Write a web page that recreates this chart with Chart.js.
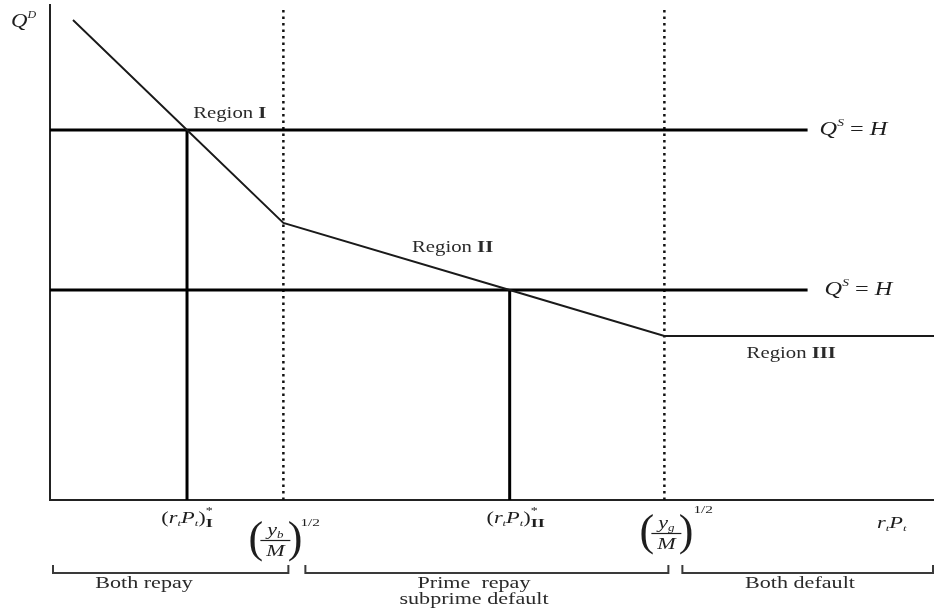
<!DOCTYPE html>
<html><head><meta charset="utf-8">
<script src="https://cdn.jsdelivr.net/npm/chart.js@4"></script>
<style>html,body{margin:0;padding:0;background:#fff}canvas{display:block}</style>
</head><body>
<canvas id="c" width="934" height="612"></canvas>
<script>
// ---- data (x: 0..100 along r_t P_t, y: 0..99 along Q) ----
const demandX = [2.6, 15.5, 26.4, 52.0, 69.5, 100];
const demandY = [96, 74, 55.4, 42.0, 32.8, 32.8];
const supplyLevels = [74, 42];          // Q^S = H (two cases)
const supplyEndX = 85.7;
const equilibriumX = [15.5, 52.0];      // (r_t P_t)*_I , (r_t P_t)*_II
const thresholdX = [26.4, 69.5];        // (y_b/M)^1/2 , (y_g/M)^1/2
const regionNames = ['I', 'II', 'III'];
const regionLabelX = [16.2, 40.95, 78.8];
const regionLabelY = [76.4, 49.6, 28.4];
const bracketLabels = [['Both repay'], ['Prime  repay', 'subprime default'], ['Both default']];

const SERIF = '"Liberation Serif", "Times New Roman", serif';
const INK = '#1e1e1e';
function F(size, style) { return (style || '') + ' ' + size + 'px ' + SERIF; }

function rich(ctx, parts, x, y, align, sx) {
  let w = 0; const adv = [];
  for (const p of parts) {
    ctx.font = p.f;
    const m = ctx.measureText(p.t).width;
    const a = p.hold ? 0 : m + (p.dx || 0);
    adv.push(a); w += a;
  }
  const x0 = align === 'center' ? x - w * sx / 2 : align === 'right' ? x - w * sx : x;
  ctx.save(); ctx.translate(x0, y); ctx.scale(sx, 1);
  ctx.textAlign = 'left'; ctx.textBaseline = 'alphabetic';
  let cx = 0;
  parts.forEach((p, i) => { ctx.font = p.f; ctx.fillStyle = p.c || INK; ctx.fillText(p.t, cx, p.dy || 0); cx += adv[i]; });
  ctx.restore();
}

function frac(ctx, cx, barY, sub, supX, supY) {
  ctx.save();
  ctx.fillStyle = INK; ctx.strokeStyle = INK;
  ctx.font = F(44); ctx.textBaseline = 'alphabetic';
  ctx.textAlign = 'left'; ctx.fillText('(', cx - 27, barY + 12);
  ctx.textAlign = 'right'; ctx.fillText(')', cx + 27, barY + 12);
  ctx.lineWidth = 1.2;
  ctx.beginPath(); ctx.moveTo(cx - 15, barY + 0.5); ctx.lineTo(cx + 15, barY + 0.5); ctx.stroke();
  ctx.restore();
  rich(ctx, [{ t: 'y', f: F(17, 'italic') }, { t: sub, f: F(10, 'italic'), dy: 3 }], cx, barY - 5, 'center', 1.3);
  rich(ctx, [{ t: 'M', f: F(17, 'italic') }], cx, barY + 16, 'center', 1.3);
  rich(ctx, [{ t: '1/2', f: F(11) }], supX, supY, 'left', 1.4);
}

function rp(ctx, mark, x, y) {
  const parts = [
    { t: '(', f: F(16) }, { t: 'r', f: F(16, 'italic') }, { t: 't', f: F(9, 'italic'), dy: 3 },
    { t: 'P', f: F(16, 'italic') }, { t: 't', f: F(9, 'italic'), dy: 3 }, { t: ')', f: F(16) },
    { t: '*', f: F(10), dy: -9, hold: true }, { t: mark, f: F(13, 'bold'), dy: 4 }
  ];
  rich(ctx, parts, x, y, 'center', 1.4);
}

const annot = {
  id: 'annot',
  afterDraw(chart) {
    const ctx = chart.ctx, xs = chart.scales.x, ys = chart.scales.y;
    const px = v => xs.getPixelForValue(v), py = v => ys.getPixelForValue(v);
    // axis label
    rich(ctx, [{ t: 'Q', f: F(19, 'italic') }, { t: 'D', f: F(10, 'italic'), dy: -9 }], 11, 27, 'left', 1.2);
    // supply labels
    supplyLevels.forEach((l, i) => {
      rich(ctx, [{ t: 'Q', f: F(18, 'italic') }, { t: 'S', f: F(10, 'italic'), dy: -9 },
        { t: ' = ', f: F(18) }, { t: 'H', f: F(18, 'italic') }],
        px(supplyEndX) + 12 + i * 5, py(l) + 5, 'left', 1.35);
    });
    // region labels
    regionNames.forEach((n, i) => {
      rich(ctx, [{ t: 'Region ', f: F(17), c: '#2a2a2a' }, { t: n, f: F(17, 'bold'), c: '#2a2a2a' }],
        px(regionLabelX[i]), py(regionLabelY[i]), 'left', 1.22);
    });
    // x-axis labels
    const base = ys.bottom;
    rp(ctx, 'I', px(equilibriumX[0]), base + 23);
    rp(ctx, 'II', px(equilibriumX[1]) + 6, base + 23);
    frac(ctx, px(thresholdX[0]) - 8, base + 40, 'b', px(thresholdX[0]) + 17, base + 26);
    frac(ctx, px(thresholdX[1]) + 2, base + 33, 'g', px(thresholdX[1]) + 29, base + 13);
    rich(ctx, [{ t: 'r', f: F(16, 'italic') }, { t: 't', f: F(9, 'italic'), dy: 3 },
      { t: 'P', f: F(16, 'italic') }, { t: 't', f: F(9, 'italic'), dy: 3 }], 877, base + 28, 'left', 1.4);
    // brackets
    const by = base + 73;
    const spans = [[xs.left + 3, px(thresholdX[0]) + 5], [px(thresholdX[0]) + 22, px(thresholdX[1]) + 4], [px(thresholdX[1]) + 18, xs.right - 1]];
    ctx.save();
    ctx.strokeStyle = '#3a3a3a'; ctx.lineWidth = 2;
    spans.forEach(([a, b]) => {
      ctx.beginPath();
      ctx.moveTo(a, by - 8); ctx.lineTo(a, by); ctx.lineTo(b, by); ctx.lineTo(b, by - 8);
      ctx.stroke();
    });
    ctx.restore();
    const centers = [144, 474, 800];
    bracketLabels.forEach((lines, i) => {
      lines.forEach((s, j) => {
        rich(ctx, [{ t: s, f: F(17), c: '#2a2a2a' }], centers[i], by + 15 + j * 16, 'center', 1.3);
      });
    });
  }
};

const seg = (x1, y1, x2, y2) => [{ x: x1, y: y1 }, { x: x2, y: y2 }];
const datasets = [];
datasets.push({ data: demandX.map((x, i) => ({ x, y: demandY[i] })), borderColor: '#1a1a1a', borderWidth: 1.9 });
supplyLevels.forEach(l => datasets.push({ data: seg(0, l, supplyEndX, l), borderColor: '#000', borderWidth: 3 }));
equilibriumX.forEach((x, i) => datasets.push({ data: seg(x, 0, x, supplyLevels[i]), borderColor: '#000', borderWidth: 3 }));
thresholdX.forEach(x => datasets.push({ data: seg(x, 0, x, 98.5), borderColor: '#111', borderWidth: 2.5, borderDash: [2.5, 4] }));
datasets.forEach(d => { d.showLine = true; d.pointRadius = 0; d.fill = false; });

new Chart(document.getElementById('c'), {
  type: 'scatter',
  data: { datasets },
  options: {
    responsive: false, animation: false,
    layout: { padding: { left: 50, top: 5, right: 0, bottom: 112 } },
    plugins: { legend: { display: false }, tooltip: { enabled: false } },
    scales: {
      x: { type: 'linear', min: 0, max: 100, grid: { display: false, drawTicks: false }, ticks: { display: false }, border: { display: true, color: '#222', width: 2 } },
      y: { type: 'linear', min: 0, max: 99, grid: { display: false, drawTicks: false }, ticks: { display: false }, border: { display: true, color: '#222', width: 2 } }
    }
  },
  plugins: [annot]
});
</script>
</body></html>
